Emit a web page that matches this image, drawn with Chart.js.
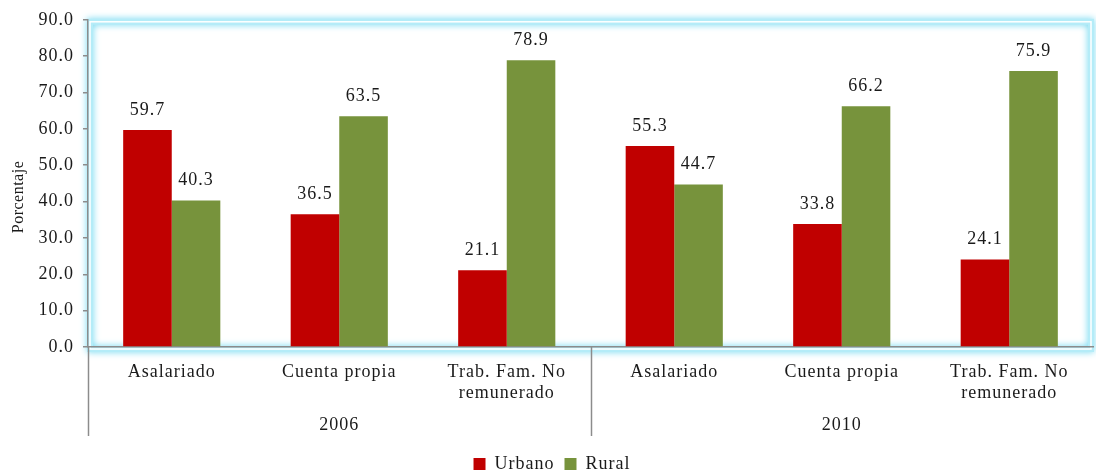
<!DOCTYPE html>
<html>
<head>
<meta charset="utf-8">
<script src="https://cdn.jsdelivr.net/npm/chart.js@4"></script>
<style>
  html, body { margin: 0; padding: 0; background: #fff; }
  #wrap { width: 1096px; height: 473px; }
</style>
</head>
<body>
<div id="wrap"><canvas id="chart"></canvas></div>
<script>
var categories = [
  "Asalariado", "Cuenta propia", ["Trab. Fam. No", "remunerado"],
  "Asalariado", "Cuenta propia", ["Trab. Fam. No", "remunerado"]
];
var years = ["2006", "2010"];
var urbano = [59.7, 36.5, 21.1, 55.3, 33.8, 24.1];
var rural = [40.3, 63.5, 78.9, 44.7, 66.2, 75.9];

var serif = "'Liberation Serif', 'DejaVu Serif', serif";

// glowing frame behind the plot area, wider letter spacing for all text
var framePlugin = {
  id: "frame",
  beforeDraw: (chart) => {
    var a = chart.chartArea, ctx = chart.ctx;
    ctx.letterSpacing = "1px";
    ctx.save();
    ctx.shadowColor = "#6fd8f0";
    ctx.shadowBlur = 7;
    ctx.strokeStyle = "#b4ecf8";
    ctx.lineWidth = 6;
    ctx.strokeRect(a.left + 2, a.top + 2, a.right - a.left - 4, a.bottom - a.top);
    ctx.shadowBlur = 0;
    ctx.strokeStyle = "#ffffff";
    ctx.lineWidth = 1.5;
    ctx.strokeRect(a.left + 2, a.top + 2, a.right - a.left - 4, a.bottom - a.top);
    ctx.restore();
  }
};

// value labels above bars, year row, group separators, axis title
var labelPlugin = {
  id: "labels",
  afterDraw: (chart) => {
    var ctx = chart.ctx, x = chart.scales.x;
    ctx.save();
    ctx.letterSpacing = "1px";
    ctx.fillStyle = "#1a1a1a";
    ctx.font = "18px " + serif;
    ctx.textAlign = "center";
    ctx.textBaseline = "bottom";
    chart.data.datasets.forEach((ds, i) => {
      chart.getDatasetMeta(i).data.forEach((bar, j) => {
        ctx.fillText(ds.data[j].toFixed(1), bar.x, bar.y - 11);
      });
    });
    var bottom = chart.chartArea.bottom;
    var step = (x.right - x.left) / categories.length;
    ctx.strokeStyle = "#8c8c8c";
    ctx.lineWidth = 1.5;
    [0, 3].forEach((k) => {
      var px = Math.round(x.left + k * step) + 0.5;
      ctx.beginPath();
      ctx.moveTo(px, bottom);
      ctx.lineTo(px, bottom + 89);
      ctx.stroke();
    });
    ctx.textBaseline = "middle";
    years.forEach((y, g) => {
      var cx = (x.getPixelForValue(g * 3) + x.getPixelForValue(g * 3 + 2)) / 2;
      ctx.fillText(y, cx, bottom + 78);
    });
    ctx.translate(19, 197);
    ctx.rotate(-Math.PI / 2);
    ctx.font = "16px " + serif;
    ctx.letterSpacing = "0.5px";
    ctx.fillText("Porcentaje", 0, 0);
    ctx.restore();
  }
};

new Chart(document.getElementById("chart"), {
  type: "bar",
  data: {
    labels: categories,
    datasets: [
      { label: "Urbano", data: urbano, backgroundColor: "#c00000", borderWidth: 0 },
      { label: "Rural", data: rural, backgroundColor: "#77933c", borderWidth: 0 }
    ]
  },
  options: {
    responsive: true,
    maintainAspectRatio: false,
    animation: false,
    layout: { padding: { top: 19, right: 3, left: 0, bottom: -10 } },
    datasets: { bar: { categoryPercentage: 0.58, barPercentage: 1.0 } },
    plugins: {
      tooltip: { enabled: false },
      legend: {
        position: "bottom",
        labels: {
          font: { family: serif, size: 18 },
          color: "#1a1a1a",
          boxWidth: 12,
          boxHeight: 12,
          padding: 10
        }
      }
    },
    scales: {
      x: {
        grid: { display: false, drawTicks: false },
        border: { color: "#8c8c8c", width: 1.5 },
        ticks: {
          font: { family: serif, size: 18, lineHeight: 1.2 },
          color: "#1a1a1a",
          padding: 14,
          maxRotation: 0,
          autoSkip: false
        },
        afterFit: (s) => { s.height = 98; }
      },
      y: {
        min: 0,
        max: 90,
        ticks: {
          stepSize: 10,
          font: { family: serif, size: 18 },
          color: "#1a1a1a",
          padding: 9,
          callback: (v) => v.toFixed(1)
        },
        grid: { display: true, drawOnChartArea: false, tickLength: 5, color: "#8c8c8c", lineWidth: 1.5 },
        border: { color: "#8c8c8c", width: 1.5 },
        afterFit: (s) => { s.width = 88; }
      }
    }
  },
  plugins: [framePlugin, labelPlugin]
});
</script>
</body>
</html>
